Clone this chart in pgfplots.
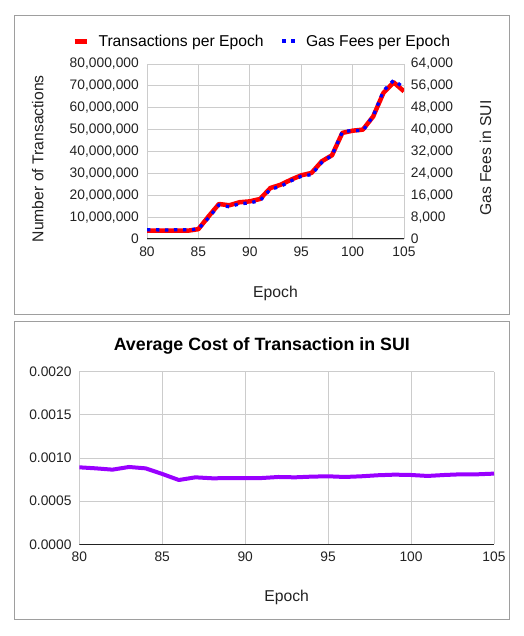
\documentclass[border=0pt]{standalone}
\usepackage{fontspec}
\setmainfont{Liberation Sans}
\usepackage{pgfplots}
\usepackage{pgfplotstable}
\pgfplotsset{compat=1.18}

\definecolor{gridgray}{RGB}{204,204,204}
\definecolor{boxgray}{RGB}{158,158,158}
\definecolor{txred}{RGB}{255,0,0}
\definecolor{gasblue}{RGB}{0,0,255}
\definecolor{costpurple}{RGB}{153,0,255}
\definecolor{ink}{RGB}{34,34,34}

\newcommand\tickfont{\fontsize{13.8}{16}\selectfont}
\newcommand\labelfont{\fontsize{15.7}{18}\selectfont}
\newcommand\titlefont{\fontsize{17.8}{20}\selectfont\bfseries}

% epoch, transactions, gas fees (SUI), average cost (SUI)
\pgfplotstableread{
epoch tx gas cost
80 3800000 3390 0.000892
81 3800000 3344 0.000880
82 3800000 3287 0.000865
83 3800000 3405 0.000896
84 3800000 3344 0.000880
85 4500000 3668 0.000815
86 10400000 7748 0.000745
87 16000000 12416 0.000776
88 15400000 11781 0.000765
89 16800000 12869 0.000766
90 17200000 13210 0.000768
91 18300000 14054 0.000768
92 23300000 18174 0.000780
93 24800000 19245 0.000776
94 27100000 21246 0.000784
95 29100000 22931 0.000788
96 30200000 23556 0.000780
97 35500000 27974 0.000788
98 38300000 30640 0.000800
99 48500000 39140 0.000807
100 49500000 39749 0.000803
101 50000000 39600 0.000792
102 56000000 44968 0.000803
103 66800000 54175 0.000811
104 71600000 58068 0.000811
105 67500000 55283 0.000819
}\datatable

\pgfplotsset{
  sheet/.style={
    scale only axis,
    xmin=80, xmax=105,
    xtick={80,85,90,95,100,105},
    major tick length=0pt,
    axis line style={draw=none},
    grid=major,
    grid style={draw=gridgray, line width=0.8pt},
    tick label style={font=\tickfont, text=ink, inner sep=0pt},
    /pgf/number format/assume math mode=true,
    scaled y ticks=false,
  },
}

\begin{document}
\begin{tikzpicture}
\path[use as bounding box] (0,0) rectangle (523pt,636pt);
\fill[white] (0,0) rectangle (523pt,636pt);

% panel frames
\draw[boxgray, line width=1pt] (14.3pt,321pt) rectangle (509.3pt,620pt);
\draw[boxgray, line width=1pt] (14.3pt,16pt) rectangle (509.3pt,314.7pt);

% ---- top: transactions and gas fees ----
\begin{axis}[sheet,
  at={(147pt,397pt)}, anchor=south west,
  width=257pt, height=175pt,
  ymin=0, ymax=80000000,
  ytick={0,10000000,20000000,30000000,40000000,50000000,60000000,70000000,80000000},
  yticklabel style={/pgf/number format/fixed, /pgf/number format/1000 sep={,},
    anchor=east, xshift=-8pt},
  xticklabel style={anchor=north, yshift=-7.7pt},
  legend style={at={(0.4444,1.1297)}, anchor=center, draw=none, fill=none,
    font=\labelfont, legend columns=2, nodes={inner sep=0pt},
    /tikz/every odd column/.append style={column sep=9pt},
    /tikz/every even column/.append style={column sep=16.7pt}},
  legend image code/.code={\draw[#1] (0pt,0pt) -- (12.6pt,0pt);},
]
\addplot[txred, line width=4.5pt, line join=round] table[x=epoch, y=tx] {\datatable};
\addlegendentry{Transactions per Epoch}
\addlegendimage{gasblue, line width=4pt, dash pattern=on 4pt off 4.6pt}
\addlegendentry{Gas Fees per Epoch}
\draw[ink, line width=1pt] (rel axis cs:0,0) -- (rel axis cs:1,0);
\end{axis}

\begin{axis}[
  scale only axis,
  at={(147pt,397pt)}, anchor=south west,
  width=257pt, height=175pt,
  xmin=80, xmax=105, hide x axis,
  axis y line*=right, y axis line style={draw=none},
  ymin=0, ymax=64000,
  ytick={0,8000,16000,24000,32000,40000,48000,56000,64000},
  major tick length=0pt,
  scaled y ticks=false,
  /pgf/number format/assume math mode=true,
  yticklabel style={font=\tickfont, text=ink, inner sep=0pt,
    /pgf/number format/fixed, /pgf/number format/1000 sep={,},
    anchor=west, xshift=6.7pt},
]
\addplot[gasblue, line width=3.3pt, dash pattern=on 3.3pt off 5.7pt] table[x=epoch, y=gas] {\datatable};
\end{axis}

\node[rotate=90, font=\labelfont, text=ink] at (37.8pt,477.3pt) {Number of Transactions};
\node[rotate=90, font=\labelfont, text=ink] at (485.4pt,477.8pt) {Gas Fees in SUI};
\node[font=\labelfont, text=ink, anchor=base] at (275.5pt,338.7pt) {Epoch};

% ---- bottom: average cost ----
\begin{axis}[sheet,
  at={(79.3pt,91.7pt)}, anchor=south west,
  width=414.7pt, height=172.6pt,
  ymin=0, ymax=0.002,
  ytick={0,0.0005,0.001,0.0015,0.002},
  yticklabel style={/pgf/number format/fixed, /pgf/number format/fixed zerofill,
    /pgf/number format/precision=4, anchor=east, xshift=-7.6pt},
  xticklabel style={anchor=north, yshift=-7pt},
]
\addplot[costpurple, line width=4pt, line join=round] table[x=epoch, y=cost] {\datatable};
\draw[ink, line width=1pt] (rel axis cs:0,0) -- (rel axis cs:1,0);
\end{axis}

\node[font=\titlefont, anchor=base] at (261.8pt,285pt) {Average Cost of Transaction in SUI};
\node[font=\labelfont, text=ink, anchor=base] at (286.7pt,34pt) {Epoch};
\end{tikzpicture}
\end{document}
